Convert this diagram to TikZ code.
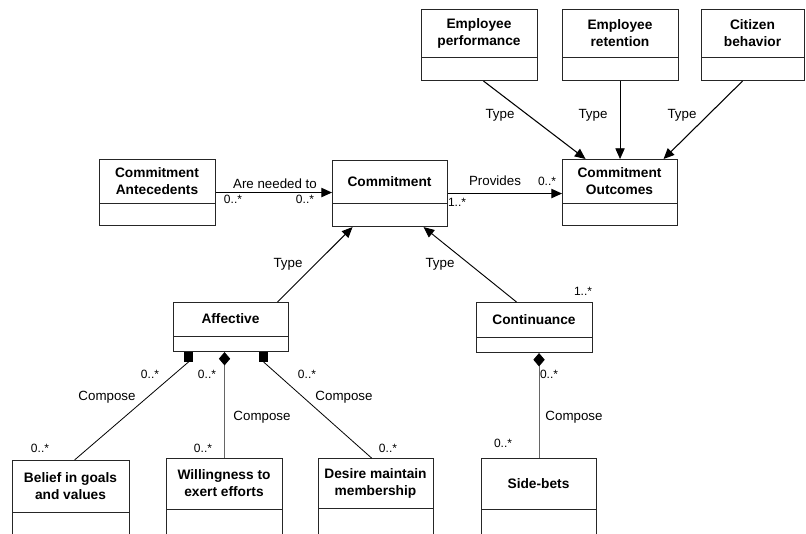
\documentclass[tikz,border=0pt]{standalone}
\usepackage{fontspec}
\setmainfont{Liberation Sans}
\usetikzlibrary{arrows.meta,calc}
\tikzset{
  box/.style={draw=black!85, line width=0.8pt, fill=white, inner sep=0pt, anchor=north west},
  divline/.style={draw=black!85, line width=0.7pt},
  boxtext/.style={font=\bfseries\fontsize{10.3}{12.7}\selectfont, align=center, inner sep=0pt},
  lbl/.style={font=\fontsize{10}{12}\selectfont, inner sep=0pt},
  mult/.style={font=\fontsize{9}{10}\selectfont, inner sep=0pt},
  conn/.style={line width=0.8pt, black},
  arr/.style={conn, -{Triangle[length=8pt,width=7pt]}},
  comp/.style={conn, {Diamond[length=10pt,width=8.5pt,color=black]}-},
  sqr/.style={fill=black, minimum size=7pt, inner sep=0pt},
}
\newcommand\umlbox[7]{%
  \node[box, minimum width={(#4-#2)*0.75pt}, minimum height={(#5-#3)*0.75pt}] (#1) at (#2,#3) {};
  \draw[divline] (#1.west |- 0,#6) -- (#1.east |- 0,#6);
  \node[boxtext] (#1-t) at ({(#2+#4)/2},{(#3+#6)/2}) {#7};
}
\begin{document}
\begin{tikzpicture}[x=0.75pt,y=-0.75pt]
\useasboundingbox (0,0) rectangle (806,533);
\clip (0,0) rectangle (806,533);
% boxes
\umlbox{ep}{421}{9}{537}{80}{57}{Employee\\performance}
\umlbox{er}{562}{9}{678}{80}{57}{Employee\\retention}
\umlbox{cb}{701}{9}{804}{80}{57}{Citizen\\behavior}
\umlbox{co}{562}{159}{677}{225}{203}{Commitment\\Outcomes}
\umlbox{cm}{332}{160}{447}{226}{203}{Commitment}
\umlbox{ca}{99}{159}{215}{225}{203}{Commitment\\Antecedents}
\umlbox{af}{173}{302}{288}{351}{336}{Affective}
\umlbox{cn}{476}{302}{592}{352}{337}{Continuance}
\umlbox{bg}{12}{460}{129}{570}{512}{Belief in goals\\and values}
\umlbox{wi}{166}{458}{282}{570}{509}{Willingness to\\exert efforts}
\umlbox{de}{318}{458}{433}{570}{508}{Desire maintain\\membership}
\umlbox{sb}{481}{458}{596}{570}{509}{Side-bets}

% outcomes types
\draw[arr] ($(ep.south)+(4,0)$) -- ($(co.north)+(-34.5,0)$);
\draw[arr, line width=0.6pt] (er.south -| co.north) -- (co.north);
\draw[arr] ($(cb.south)+(-10.5,0)$) -- ($(co.north)+(43.5,0)$);
\node[lbl] (t1) at (500,115) {Type};
\node[lbl] (t2) at (593,115) {Type};
\node[lbl] (t3) at (682,115) {Type};

% antecedents -> commitment
\draw[arr] (ca.east) -- (ca.east -| cm.west);
\node[lbl, anchor=base] (need) at (275,188) {Are needed to};
\node[mult] (m1) at (233,199) {0..*};
\node[mult] (m2) at (305,199) {0..*};

% commitment -> outcomes
\draw[arr] (cm.east) -- (cm.east -| co.west);
\node[lbl] (prov) at (495,181) {Provides};
\node[mult] (m3) at (547,181) {0..*};
\node[mult] (m4) at (457,202) {1..*};

% types of commitment
\draw[arr, line width=0.7pt] ($(af.north)+(46.5,0)$) -- ($(cm.south)+(-37.5,0)$);
\draw[arr, line width=0.7pt] ($(cn.north)+(-18,0)$) -- ($(cm.south)+(33.5,0)$);
\node[lbl] (t4) at (288,264) {Type};
\node[lbl] (t5) at (440,264) {Type};
\node[mult] (m5) at (583,291) {1..*};

% affective composition
\node[sqr, anchor=north] (sq1) at ($(af.south)+(-42.5,0)$) {};
\node[sqr, anchor=north] (sq2) at ($(af.south)+(32.5,0)$) {};
\draw[conn, line width=0.6pt] (sq1.south) -- ($(bg.north)+(3.5,0)$);
\draw[comp, line width=0.6pt, draw=black!60] (wi.north |- af.south) -- (wi.north);
\draw[conn, line width=0.6pt] (sq2.south) -- ($(de.north)+(-4.5,0)$);
\node[mult] (m6) at (150,374) {0..*};
\node[mult] (m7) at (207,374) {0..*};
\node[mult] (m8) at (307,374) {0..*};
\node[lbl] (c1) at (107,397) {Compose};
\node[lbl] (c2) at (262,417) {Compose};
\node[lbl] (c3) at (344,397) {Compose};
\node[mult] (m9) at (40,448) {0..*};
\node[mult] (m10) at (203,448) {0..*};
\node[mult] (m11) at (388,448) {0..*};

% continuance composition
\draw[comp, line width=0.6pt, draw=black!60] (sb.north |- cn.south) -- (sb.north);
\node[mult] (m12) at (549,374) {0..*};
\node[lbl] (c4) at (574,417) {Compose};
\node[mult] (m13) at (503,443) {0..*};
\end{tikzpicture}
\end{document}
